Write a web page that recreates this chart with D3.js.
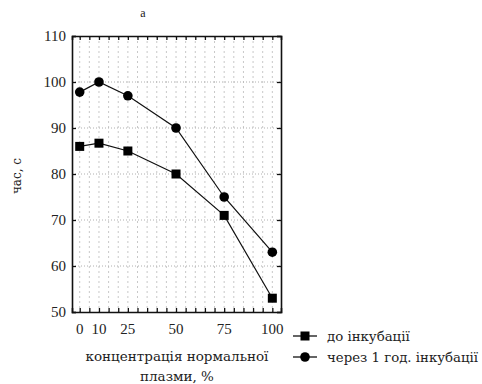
<!DOCTYPE html>
<html>
<head>
<meta charset="utf-8">
<script src="https://cdn.jsdelivr.net/npm/d3@7"></script>
<style>
body { margin: 0; background: #fff; }
</style>
</head>
<body>
<div id="chart"></div>
<script>
// концентрація нормальної плазми, %
var concentration = [0, 10, 25, 50, 75, 100];
var beforeIncubation = [86, 86.7, 85, 80, 71, 53];   // до інкубації
var afterIncubation = [97.8, 100, 97, 90, 75, 63];    // через 1 год. інкубації
var xTickLabels = [0, 10, 25, 50, 75, 100];
var yTickLabels = [50, 60, 70, 80, 90, 100, 110];
var xMinorTicks = d3.range(0, 101, 5);

var width = 482, height = 384;
var plotLeft = 72, plotRight = 281, plotTop = 36, plotBottom = 312;
var numFont = "'Liberation Serif', serif";
var textFont = "'DejaVu Serif', serif";

var svg = d3.select("#chart").append("svg")
	.attr("width", width)
	.attr("height", height);

var x = d3.scaleLinear().domain([-4, 104.5]).range([plotLeft, plotRight]);
var y = d3.scaleLinear().domain([50, 110]).range([plotBottom, plotTop]);

// сітка
var grid = svg.append("g").attr("class", "grid");
grid.selectAll("line.v").data(xMinorTicks).enter().append("line")
	.attr("x1", function(d){ return x(d); })
	.attr("x2", function(d){ return x(d); })
	.attr("y1", plotTop)
	.attr("y2", plotBottom)
	.style("stroke", "#c8c8c8")
	.style("stroke-width", 1)
	.style("stroke-dasharray", "2,3");
grid.selectAll("line.h").data(yTickLabels.slice(1, -1)).enter().append("line")
	.attr("x1", plotLeft)
	.attr("x2", plotRight)
	.attr("y1", function(d){ return y(d); })
	.attr("y2", function(d){ return y(d); })
	.style("stroke", "#b0b0b0")
	.style("stroke-width", 1)
	.style("stroke-dasharray", "1,2");

// осі
var axisBottom = d3.axisBottom(x).tickValues(xMinorTicks).tickSize(-4).tickFormat("");
var axisTop = d3.axisTop(x).tickValues(xMinorTicks).tickSize(-4).tickFormat("");
var axisLeft = d3.axisLeft(y).tickValues(yTickLabels).tickSize(-4).tickFormat("");
var axisRight = d3.axisRight(y).tickValues(yTickLabels).tickSize(-4).tickFormat("");

[[axisBottom, "translate(0," + plotBottom + ")"], [axisTop, "translate(0," + plotTop + ")"],
 [axisLeft, "translate(" + plotLeft + ",0)"], [axisRight, "translate(" + plotRight + ",0)"]].forEach(function(a){
	var g = svg.append("g").attr("transform", a[1]).call(a[0]);
	g.select(".domain").style("stroke", "#111").style("stroke-width", 1.6);
	g.selectAll(".tick line").style("stroke", "#111").style("stroke-width", 1.3);
});

// підписи
svg.append("g").selectAll("text").data(xTickLabels).enter().append("text")
	.attr("x", function(d){ return x(d); })
	.attr("y", plotBottom + 22)
	.attr("text-anchor", "middle")
	.attr("font-family", numFont)
	.attr("font-size", 15)
	.attr("fill", "#222")
	.text(function(d){ return d; });

svg.append("g").selectAll("text").data(yTickLabels).enter().append("text")
	.attr("x", plotLeft - 6)
	.attr("y", function(d){ return y(d); })
	.attr("dy", ".35em")
	.attr("text-anchor", "end")
	.attr("font-family", numFont)
	.attr("font-size", 15)
	.attr("fill", "#222")
	.text(function(d){ return d; });

svg.append("text")
	.attr("x", 143).attr("y", 17)
	.attr("text-anchor", "middle")
	.attr("font-family", numFont)
	.attr("font-size", 12)
	.attr("fill", "#222")
	.text("a");

svg.append("text")
	.attr("transform", "translate(21,176) rotate(-90)")
	.attr("text-anchor", "middle")
	.attr("font-family", textFont)
	.attr("font-size", 12)
	.attr("fill", "#222")
	.text("час, с");

svg.append("text")
	.attr("x", 177).attr("y", 361)
	.attr("text-anchor", "middle")
	.attr("font-family", textFont)
	.attr("font-size", 13.5)
	.attr("fill", "#222")
	.text("концентрація нормальної");
svg.append("text")
	.attr("x", 177).attr("y", 381)
	.attr("text-anchor", "middle")
	.attr("font-family", textFont)
	.attr("font-size", 13.5)
	.attr("fill", "#222")
	.text("плазми, %");

// лінії
var line = d3.line()
	.x(function(d){ return x(d[0]); })
	.y(function(d){ return y(d[1]); });

var series = [
	{ values: beforeIncubation, marker: "square", name: "до інкубації" },
	{ values: afterIncubation, marker: "circle", name: "через 1 год. інкубації" }
];

function drawMarker(g, kind, cx, cy){
	if(kind == "square"){
		g.append("rect")
			.attr("x", cx - 4.5).attr("y", cy - 4.5)
			.attr("width", 9).attr("height", 9)
			.style("fill", "#000");
	} else {
		g.append("circle")
			.attr("cx", cx).attr("cy", cy)
			.attr("r", 4.8)
			.style("fill", "#000");
	}
}

series.forEach(function(s, k){
	var pts = concentration.map(function(c, i){ return [c, s.values[i]]; });
	svg.append("path")
		.datum(pts)
		.attr("d", line)
		.style("fill", "none")
		.style("stroke", "#111")
		.style("stroke-width", 1.2);
	var g = svg.append("g");
	pts.forEach(function(p){ drawMarker(g, s.marker, x(p[0]), y(p[1])); });

	// легенда
	var ly = 336 + k * 21;
	var lg = svg.append("g");
	lg.append("line")
		.attr("x1", 293).attr("x2", 317)
		.attr("y1", ly).attr("y2", ly)
		.style("stroke", "#111").style("stroke-width", 1.3);
	drawMarker(lg, s.marker, 305, ly);
	lg.append("text")
		.attr("x", 327).attr("y", ly)
		.attr("dy", ".35em")
		.attr("font-family", textFont)
		.attr("font-size", 13.3)
		.attr("fill", "#222")
		.text(s.name);
});
</script>
</body>
</html>
